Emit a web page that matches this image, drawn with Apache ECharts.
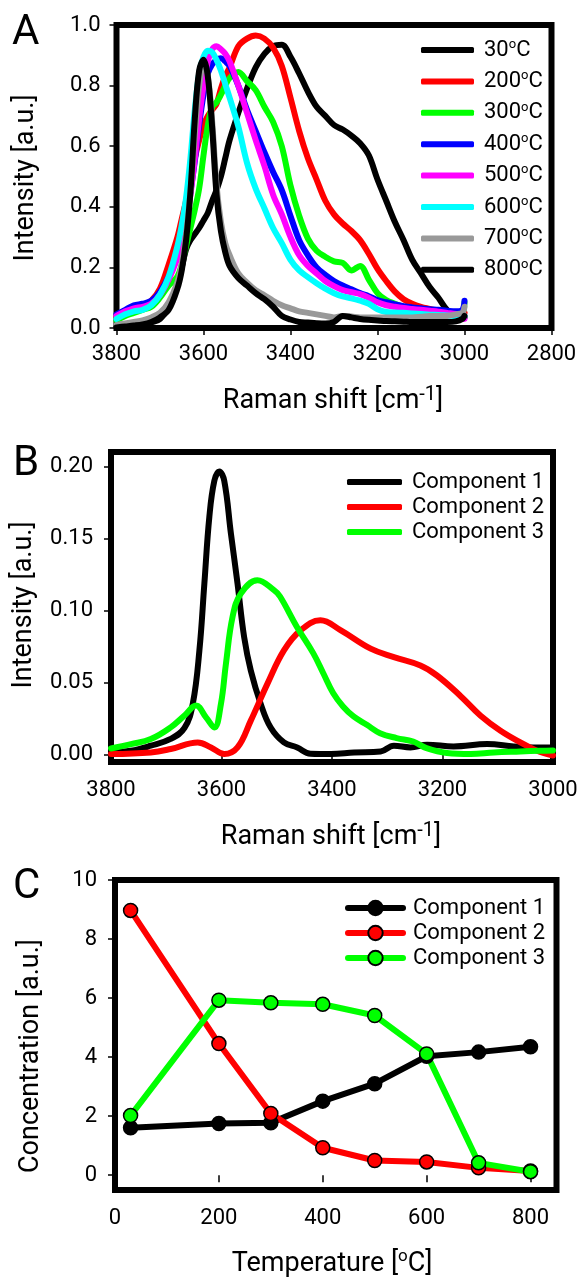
<!DOCTYPE html>
<html>
<head>
<meta charset="utf-8">
<script src="https://cdn.jsdelivr.net/npm/echarts@6/dist/echarts.min.js"></script>
<style>
  html, body { margin: 0; padding: 0; background: #fff; }
  #chart { width: 579px; height: 1277px; }
</style>
</head>
<body>
<div id="chart"></div>
<script>
// ---------- Panel A: Raman spectra at different temperatures ----------
const shiftA = [3800, 3780, 3760, 3740, 3720, 3700, 3680, 3660, 3650, 3640, 3630, 3620,
  3610, 3600, 3590, 3580, 3570, 3560, 3550, 3540, 3520, 3500, 3480, 3460, 3440, 3420,
  3400, 3380, 3360, 3340, 3320, 3300, 3280, 3260, 3240, 3220, 3200, 3180, 3160, 3140,
  3120, 3100, 3080, 3060, 3040, 3020, 3005, 3000];

const int30 = [0.005, 0.008, 0.01, 0.012, 0.018, 0.03, 0.07, 0.14, 0.2, 0.26, 0.29, 0.31,
  0.33, 0.355, 0.38, 0.42, 0.455, 0.5, 0.56, 0.62, 0.71, 0.79, 0.86, 0.905, 0.93, 0.935,
  0.895, 0.84, 0.78, 0.73, 0.7, 0.67, 0.655, 0.635, 0.61, 0.57, 0.49, 0.42, 0.35, 0.29,
  0.225, 0.18, 0.135, 0.1, 0.06, 0.045, 0.04, 0.035];
const int200 = [0.035, 0.05, 0.065, 0.075, 0.09, 0.13, 0.21, 0.3, 0.36, 0.42, 0.49, 0.56,
  0.62, 0.67, 0.7, 0.72, 0.74, 0.79, 0.83, 0.86, 0.93, 0.955, 0.965, 0.955, 0.925, 0.865,
  0.76, 0.65, 0.56, 0.49, 0.42, 0.375, 0.345, 0.32, 0.29, 0.245, 0.195, 0.155, 0.12, 0.095,
  0.08, 0.07, 0.063, 0.056, 0.05, 0.045, 0.045, 0.05];
const int300 = [0.025, 0.04, 0.05, 0.06, 0.07, 0.1, 0.14, 0.17, 0.21, 0.27, 0.33, 0.39,
  0.46, 0.57, 0.67, 0.73, 0.745, 0.77, 0.8, 0.825, 0.845, 0.815, 0.785, 0.73, 0.68, 0.6,
  0.47, 0.37, 0.295, 0.255, 0.235, 0.22, 0.215, 0.19, 0.205, 0.16, 0.115, 0.092, 0.08, 0.07,
  0.063, 0.058, 0.055, 0.052, 0.05, 0.048, 0.05, 0.085];
const int400 = [0.045, 0.06, 0.075, 0.08, 0.09, 0.12, 0.17, 0.24, 0.29, 0.36, 0.45, 0.55,
  0.67, 0.77, 0.84, 0.87, 0.885, 0.89, 0.88, 0.865, 0.8, 0.72, 0.65, 0.58, 0.515, 0.455,
  0.37, 0.29, 0.24, 0.2, 0.175, 0.155, 0.14, 0.128, 0.115, 0.105, 0.092, 0.085, 0.078, 0.072,
  0.068, 0.065, 0.062, 0.06, 0.057, 0.055, 0.06, 0.09];
const int500 = [0.04, 0.055, 0.065, 0.07, 0.08, 0.11, 0.16, 0.23, 0.28, 0.35, 0.44, 0.56,
  0.69, 0.8, 0.88, 0.92, 0.93, 0.92, 0.905, 0.88, 0.8, 0.71, 0.62, 0.535, 0.44, 0.375,
  0.3, 0.24, 0.205, 0.18, 0.155, 0.138, 0.125, 0.118, 0.112, 0.1, 0.085, 0.075, 0.07, 0.066,
  0.063, 0.06, 0.057, 0.054, 0.05, 0.046, 0.045, 0.03];
const int600 = [0.03, 0.045, 0.055, 0.06, 0.075, 0.11, 0.17, 0.27, 0.34, 0.43, 0.56, 0.72,
  0.84, 0.895, 0.915, 0.91, 0.885, 0.85, 0.805, 0.76, 0.665, 0.545, 0.46, 0.395, 0.33, 0.28,
  0.225, 0.19, 0.168, 0.148, 0.13, 0.115, 0.104, 0.098, 0.09, 0.08, 0.062, 0.053, 0.051, 0.05,
  0.048, 0.046, 0.044, 0.043, 0.041, 0.039, 0.038, 0.04];
const int700 = [0.01, 0.015, 0.02, 0.025, 0.035, 0.05, 0.085, 0.15, 0.21, 0.31, 0.45, 0.64,
  0.8, 0.87, 0.83, 0.68, 0.47, 0.35, 0.28, 0.24, 0.18, 0.15, 0.125, 0.108, 0.09, 0.075,
  0.065, 0.055, 0.05, 0.045, 0.04, 0.035, 0.04, 0.038, 0.035, 0.035, 0.035, 0.035, 0.035, 0.035,
  0.035, 0.037, 0.04, 0.04, 0.04, 0.045, 0.05, 0.07];
const int800 = [0.002, 0.005, 0.008, 0.012, 0.02, 0.035, 0.06, 0.13, 0.19, 0.29, 0.45, 0.69,
  0.85, 0.885, 0.83, 0.66, 0.44, 0.32, 0.25, 0.205, 0.165, 0.14, 0.115, 0.095, 0.07, 0.04,
  0.028, 0.02, 0.018, 0.016, 0.015, 0.02, 0.04, 0.035, 0.03, 0.027, 0.025, 0.023, 0.022, 0.021,
  0.02, 0.02, 0.02, 0.02, 0.02, 0.022, 0.03, 0.04];

const tempsA = ['30°C', '200°C', '300°C', '400°C', '500°C', '600°C', '700°C', '800°C'];
const spectraA = [int30, int200, int300, int400, int500, int600, int700, int800];
const colorsA = ['#000000', '#ff0000', '#00ff00', '#0000ff', '#ff00ff', '#00ffff', '#999999', '#000000'];

// ---------- Panel B: resolved component spectra ----------
const comp1Shift = [3800, 3764, 3728, 3692, 3667, 3652, 3640, 3631, 3622, 3613, 3604, 3595,
  3583, 3571, 3559, 3547, 3529, 3511, 3487, 3463, 3439, 3402, 3360, 3312, 3288, 3258, 3228,
  3180, 3119, 3071, 3035, 3000];
const comp1Int = [0.0016, 0.0028, 0.0063, 0.011, 0.0186, 0.0353, 0.0724, 0.1188, 0.165, 0.19,
  0.1965, 0.19, 0.1536, 0.1188, 0.0816, 0.0585, 0.0353, 0.0189, 0.0086, 0.0051, 0.0008, 0.0006,
  0.0016, 0.0023, 0.0063, 0.0051, 0.007, 0.0058, 0.0074, 0.0058, 0.0051, 0.005];
const comp2Shift = [3800, 3728, 3692, 3643, 3619, 3595, 3571, 3547, 3517, 3487, 3457, 3421,
  3384, 3330, 3288, 3240, 3210, 3168, 3131, 3095, 3059, 3029, 3000];
const comp2Int = [0.0005, 0.0016, 0.004, 0.0086, 0.0051, 0.0005, 0.0051, 0.0237, 0.0492,
  0.0724, 0.0863, 0.0933, 0.0863, 0.0736, 0.0677, 0.0619, 0.055, 0.041, 0.0271, 0.0167,
  0.0086, 0.0028, -0.0005];
const comp3Shift = [3800, 3764, 3728, 3692, 3667, 3646, 3628, 3613, 3601, 3592, 3580, 3565,
  3535, 3505, 3494, 3464, 3434, 3416, 3398, 3380, 3361, 3337, 3313, 3283, 3253, 3229, 3192,
  3149, 3107, 3059, 3023, 3000];
const comp3Int = [0.0044, 0.0074, 0.0109, 0.019, 0.0272, 0.0341, 0.026, 0.019, 0.0353, 0.0631,
  0.0956, 0.1118, 0.1211, 0.1142, 0.1098, 0.089, 0.0705, 0.0567, 0.0428, 0.0335, 0.0266,
  0.0208, 0.015, 0.0116, 0.0092, 0.0046, 0.0012, 0.0005, 0.0016, 0.0023, 0.0028, 0.003];
const ticksB_y = [0, 0.05, 0.1, 0.15, 0.2];

// ---------- Panel C: component concentrations vs temperature ----------
const temperatureC = [30, 200, 300, 400, 500, 600, 700, 800];
const conc1 = [1.61, 1.75, 1.78, 2.51, 3.10, 4.03, 4.17, 4.35];
const conc2 = [8.97, 4.46, 2.09, 0.93, 0.50, 0.45, 0.25, 0.14];
const conc3 = [2.02, 5.93, 5.84, 5.79, 5.41, 4.11, 0.42, 0.12];
const ticksC_x = [0, 200, 400, 600, 800];
const ticksC_y = [0, 2, 4, 6, 8, 10];

const componentNames = ['Component 1', 'Component 2', 'Component 3'];
const componentColors = ['#000000', '#ff0000', '#00ff00'];

const F = 'Roboto';
const TICK = 22;

function frameGrid(left, top, width, height) {
  return {
    left, top, width, height,
    show: true, borderColor: '#000', borderWidth: 6,
    backgroundColor: 'transparent', containLabel: false, outerBoundsMode: 'none'
  };
}
function tickStyle() {
  return { show: true, inside: false, length: 7, lineStyle: { color: '#000', width: 1.5 } };
}
function labelStyle(margin, formatter, customValues) {
  const o = { color: '#000', fontSize: TICK, fontFamily: F, margin, formatter: formatter || (v => String(v)) };
  if (customValues) o.customValues = customValues;
  return o;
}

const chart = echarts.init(document.getElementById('chart'), null, { renderer: 'canvas' });

const series = [];
spectraA.forEach((arr, k) => {
  series.push({
    name: tempsA[k], type: 'line', xAxisIndex: 0, yAxisIndex: 0,
    data: shiftA.map((s, i) => [s, arr[i]]),
    symbol: 'none', smooth: 0.35,
    lineStyle: { color: colorsA[k], width: 6, cap: 'round', join: 'round' },
    itemStyle: { color: colorsA[k] }
  });
});

const bData = [
  [comp1Shift, comp1Int], [comp2Shift, comp2Int], [comp3Shift, comp3Int]
];
bData.forEach((pair, k) => {
  series.push({
    name: componentNames[k], type: 'line', xAxisIndex: 1, yAxisIndex: 1,
    data: pair[0].map((s, i) => [s, pair[1][i]]),
    symbol: 'none', smooth: 0.4,
    lineStyle: { color: componentColors[k], width: 6, cap: 'round', join: 'round' },
    itemStyle: { color: componentColors[k] }
  });
});

const cData = [conc1, conc2, conc3];
cData.forEach((arr, k) => {
  series.push({
    name: 'C:' + componentNames[k], type: 'line', xAxisIndex: 2, yAxisIndex: 2,
    data: temperatureC.map((t, i) => [t, arr[i]]),
    symbol: 'circle', symbolSize: 14, showSymbol: true,
    lineStyle: { color: componentColors[k], width: 6, cap: 'round', join: 'round' },
    itemStyle: { color: componentColors[k], borderColor: '#000', borderWidth: 1.5 }
  });
});

const supRich = {
  n: { fontSize: 27, lineHeight: 32, fontFamily: F, fill: '#000' },
  s: { fontSize: 20, lineHeight: 14, verticalAlign: 'top', fontFamily: F, fill: '#000' },
  o: { fontSize: 17, lineHeight: 14, verticalAlign: 'top', fontFamily: F, fill: '#000' }
};
function title(x, y, text, rot) {
  return {
    type: 'text', x, y, rotation: rot || 0, silent: true,
    style: { text, rich: supRich, align: 'center', verticalAlign: 'middle', fontSize: 27, fontFamily: F, fill: '#000' }
  };
}
function letter(x, y, text) {
  return {
    type: 'text', x, y, silent: true,
    style: { text, fontSize: 42, fontFamily: F, fill: '#000', align: 'left', verticalAlign: 'middle' }
  };
}

const legendText = { color: '#000', fontSize: 22, fontFamily: F, lineHeight: 22, padding: [0, 0, 0, 5] };

chart.setOption({
  animation: false,
  backgroundColor: '#fff',
  grid: [
    frameGrid(116.5, 25, 435, 303),
    frameGrid(111, 452, 442, 310),
    frameGrid(115, 880, 441.5, 310)
  ],
  xAxis: [
    { gridIndex: 0, type: 'value', min: 2800, max: 3800, interval: 200, inverse: true,
      axisLine: { show: false }, axisTick: tickStyle(), splitLine: { show: false },
      axisLabel: labelStyle(15) },
    { gridIndex: 1, type: 'value', min: 3000, max: 3800, interval: 200, inverse: true,
      axisLine: { show: false }, axisTick: tickStyle(), splitLine: { show: false },
      axisLabel: labelStyle(17) },
    { gridIndex: 2, type: 'value', min: 0, max: 850,
      axisLine: { show: false }, axisTick: Object.assign(tickStyle(), { customValues: ticksC_x }),
      splitLine: { show: false }, axisLabel: labelStyle(17, null, ticksC_x) }
  ],
  yAxis: [
    { gridIndex: 0, type: 'value', min: 0, max: 1, interval: 0.2,
      axisLine: { show: false }, axisTick: tickStyle(), splitLine: { show: false },
      axisLabel: labelStyle(16, v => v.toFixed(1)) },
    { gridIndex: 1, type: 'value', min: -0.005, max: 0.21,
      axisLine: { show: false }, axisTick: Object.assign(tickStyle(), { customValues: ticksB_y }),
      splitLine: { show: false }, axisLabel: labelStyle(18, v => v.toFixed(2), ticksB_y) },
    { gridIndex: 2, type: 'value', min: -0.5, max: 10,
      axisLine: { show: false }, axisTick: Object.assign(tickStyle(), { customValues: ticksC_y }),
      splitLine: { show: false }, axisLabel: labelStyle(18, null, ticksC_y) }
  ],
  legend: [
    { orient: 'vertical', left: 416, top: 33, itemWidth: 53, itemHeight: 6, itemGap: 7.4,
      icon: 'roundRect', data: tempsA, selectedMode: false,
      formatter: n => '{t|' + n.replace('°C', '') + '}{o|o}{t|C}',
      textStyle: Object.assign({}, legendText, {
        lineHeight: 24,
        rich: {
          t: { fontSize: 22, lineHeight: 24, fontFamily: F, color: '#000' },
          o: { fontSize: 13, lineHeight: 14, verticalAlign: 'top', fontFamily: F, color: '#000' }
        }
      }) },
    { orient: 'vertical', left: 342, top: 466, itemWidth: 55, itemHeight: 6, itemGap: 3,
      icon: 'roundRect', data: componentNames, selectedMode: false, textStyle: legendText },
    { orient: 'vertical', left: 340, top: 892, itemWidth: 55, itemHeight: 18, itemGap: 3,
      data: componentNames.map(n => 'C:' + n), selectedMode: false,
      lineStyle: { width: 6, cap: 'round' },
      formatter: n => n.slice(2), textStyle: legendText }
  ],
  graphic: [
    letter(12, 33, 'A'),
    letter(13, 464, 'B'),
    letter(13, 887, 'C'),
    title(333, 401, '{n|Raman shift [cm}{s|-1}{n|]}'),
    title(331, 837, '{n|Raman shift [cm}{s|-1}{n|]}'),
    title(332, 1264, '{n|Temperature [}{o|o}{n|C]}'),
    title(26, 178, '{n|Intensity [a.u.]}', Math.PI / 2),
    title(24, 605, '{n|Intensity [a.u.]}', Math.PI / 2),
    title(31, 1056, '{n|Concentration [a.u.]}', Math.PI / 2)
  ],
  series
});
</script>
</body>
</html>
